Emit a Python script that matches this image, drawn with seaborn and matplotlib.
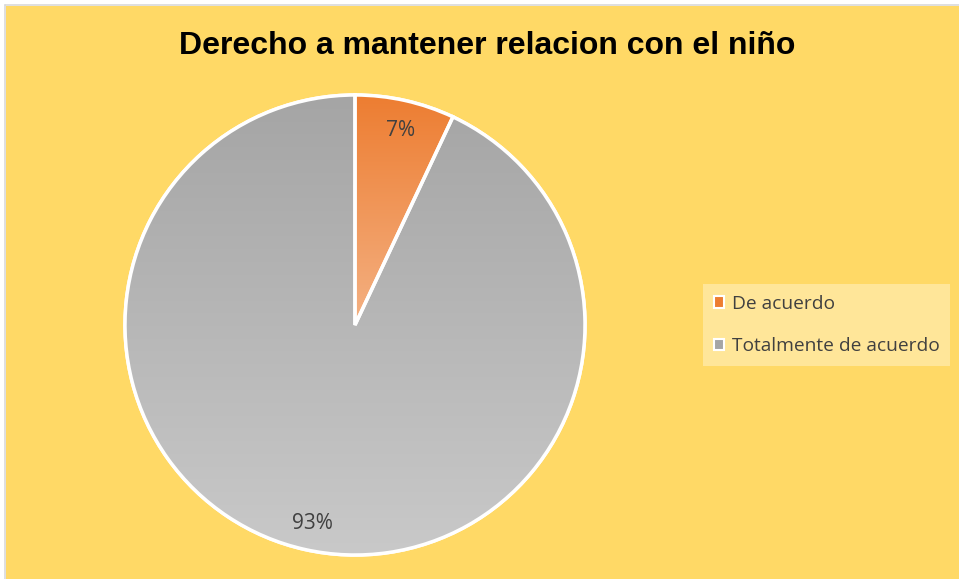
import matplotlib
matplotlib.use("Agg")
import matplotlib.pyplot as plt
import matplotlib.patches as mpatches
from matplotlib.colors import LinearSegmentedColormap
import numpy as np
import seaborn as sns

categories = ["De acuerdo", "Totalmente de acuerdo"]
values = [7, 93]
labels_pct = ["7%", "93%"]
title = "Derecho a mantener relacion con el niño"

top_colors = ["#ED7D31", "#A5A5A5"]
bottom_colors = ["#F4B183", "#C9C9C9"]

sns.set_style("white")
plt.rcParams['font.family'] = ['Open Sans', 'DejaVu Sans']

fig = plt.figure(figsize=(9.59, 5.79), dpi=100)
fig.patch.set_facecolor("white")
bg = mpatches.Rectangle((6 / 959, 0), 1 - 6 / 959, 1 - 6 / 579, transform=fig.transFigure,
                        facecolor="#FFD966", edgecolor="none", zorder=-10)
fig.patches.append(bg)
fig.add_artist(matplotlib.lines.Line2D([5 / 959, 5 / 959], [0, 1 - 5 / 579], transform=fig.transFigure,
                                       color="#D9D9D9", lw=1.2))
fig.add_artist(matplotlib.lines.Line2D([5 / 959, 1], [1 - 5 / 579, 1 - 5 / 579], transform=fig.transFigure,
                                       color="#D9D9D9", lw=1.2))

ax = fig.add_axes([102 / 959, 1 / 579, 506 / 959, 506 / 579])
ax.set_facecolor("none")
wedges, _ = ax.pie(values, startangle=90, counterclock=False, radius=1,
                   colors=top_colors, wedgeprops=dict(edgecolor="white", linewidth=2.5))
ax.set_xlim(-1.1, 1.1)
ax.set_ylim(-1.1, 1.1)
ax.set_aspect("equal")
ax.axis("off")

for w, ct, cb in zip(wedges, top_colors, bottom_colors):
    path = w.get_path()
    verts = w.get_transform().transform(path.vertices)
    dverts = ax.transData.inverted().transform(verts)
    x0, x1 = dverts[:, 0].min(), dverts[:, 0].max()
    y0, y1 = dverts[:, 1].min(), dverts[:, 1].max()
    cmap = LinearSegmentedColormap.from_list("g", [cb, ct])
    grad = np.linspace(0, 1, 256).reshape(-1, 1)
    im = ax.imshow(grad, extent=[x0, x1, y0, y1], origin="lower", cmap=cmap,
                   aspect="auto", zorder=w.get_zorder() + 0.1)
    im.set_clip_path(w)
    outline = mpatches.PathPatch(w.get_path(), transform=w.get_transform(), facecolor="none",
                                 edgecolor="white", linewidth=2.5, zorder=w.get_zorder() + 0.2)
    ax.add_patch(outline)
ax.set_xlim(-1.1, 1.1)
ax.set_ylim(-1.1, 1.1)

# labels
label_pos = [(0.196, 0.845), (-0.183, -0.865)]
for (lx, ly), t in zip(label_pos, labels_pct):
    ax.text(lx, ly, t, ha="center", va="center", fontsize=15, color="#404040", zorder=10)

fig.text(487 / 959, 1 - 46 / 579, title, ha="center", va="center", fontsize=23,
         fontweight="bold", family=["Liberation Sans", "DejaVu Sans"], color="black")

handles = [mpatches.Patch(facecolor=c, edgecolor="white", linewidth=1.5) for c in top_colors]
leg = fig.legend(handles, categories, loc="center left", bbox_to_anchor=(703 / 959, 1 - 325 / 579),
                 frameon=True, fontsize=13.8, handlelength=0.55, handleheight=0.55, handletextpad=0.4,
                 labelspacing=1.3, borderpad=0.55, borderaxespad=0, labelcolor="#404040")
frame = leg.get_frame()
frame.set_facecolor("#FFE699")
frame.set_edgecolor("none")
frame.set_alpha(1)
frame.set_boxstyle("square", pad=0)

fig.savefig("out.png", dpi=100, facecolor=fig.get_facecolor())
